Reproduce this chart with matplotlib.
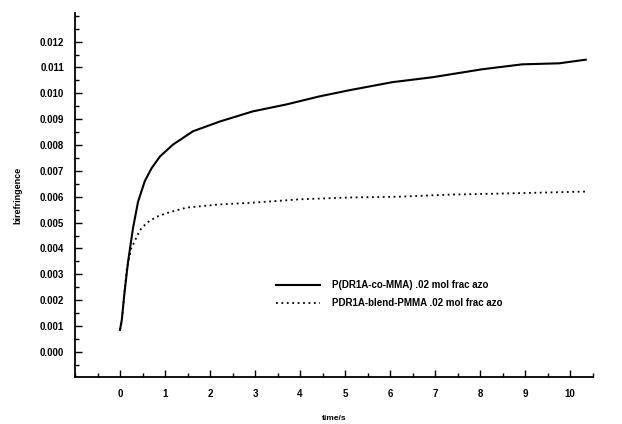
import matplotlib
matplotlib.use('Agg')
import matplotlib.pyplot as plt
from matplotlib.ticker import MultipleLocator, FixedLocator

plt.rcParams['font.family'] = ['Liberation Sans', 'DejaVu Sans']
plt.rcParams['font.weight'] = 'bold'

# P(DR1A-co-MMA) curve
t_co = [0, 0.04, 0.1, 0.18, 0.29, 0.4, 0.55, 0.7, 0.89, 1.18, 1.62, 2.22,
        2.95, 3.70, 4.43, 5.1, 6.05, 6.94, 8.05, 8.94, 9.76, 10.35]
bf_co = [0.00085, 0.00124, 0.0023, 0.0035, 0.0048, 0.0058, 0.0066, 0.0071,
         0.00756, 0.00802, 0.00853, 0.00891, 0.0093, 0.00957, 0.00988, 0.01012,
         0.01043, 0.01062, 0.01093, 0.01112, 0.01116, 0.01130]

# PDR1A-blend-PMMA curve
t_bl = [0, 0.04, 0.1, 0.15, 0.25, 0.44, 0.6, 0.82, 1.1, 1.48, 2.2, 2.95, 4.0,
        5.1, 6.2, 7.3, 8.4, 9.4, 10.35]
bf_bl = [0.00085, 0.0012, 0.0023, 0.0032, 0.0040, 0.0047, 0.0050, 0.00523,
         0.0054, 0.00558, 0.0057, 0.00577, 0.0059, 0.00597, 0.0060, 0.00608,
         0.00612, 0.00616, 0.0062]

labels = ['P(DR1A-co-MMA) .02 mol frac azo', 'PDR1A-blend-PMMA .02 mol frac azo']
yticks = [0.000, 0.001, 0.002, 0.003, 0.004, 0.005, 0.006, 0.007, 0.008,
          0.009, 0.010, 0.011, 0.012]
xticks = list(range(0, 11))

fig = plt.figure(figsize=(6.22, 4.24), dpi=100)
ax = fig.add_axes([0.1206, 0.111, 0.832, 0.858])

ax.plot(t_co, bf_co, color='black', lw=1.5, linestyle='-', label=labels[0])
ax.plot(t_bl, bf_bl, color='black', lw=1.3, linestyle=(0, (1, 2)), label=labels[1])

ax.set_xlim(-1, 10.5)
ax.set_ylim(-0.00097, 0.0131)
ax.xaxis.set_major_locator(FixedLocator(xticks))
ax.xaxis.set_minor_locator(MultipleLocator(0.5))
ax.yaxis.set_major_locator(FixedLocator(yticks))
ax.yaxis.set_minor_locator(MultipleLocator(0.0005))
ax.set_yticklabels(['%.3f' % v for v in yticks])

for s in ['top', 'right']:
    ax.spines[s].set_visible(False)
for s in ['left', 'bottom']:
    ax.spines[s].set_linewidth(1.3)

ax.tick_params(which='major', direction='in', length=5, width=1, labelsize=7, pad=8)
ax.tick_params(which='minor', direction='in', length=3, width=1)
ax.tick_params(axis='x', pad=9)

ax.set_xlabel('time/s', fontsize=6, fontweight='bold', labelpad=14)
ax.set_ylabel('birefringence', fontsize=6.5, fontweight='bold', labelpad=12)
ax.xaxis.set_label_coords(0.5, -0.105)

ax.legend(loc='upper left', bbox_to_anchor=(0.372, 0.29), frameon=False,
          fontsize=7, handlelength=4.5, handletextpad=1.2, labelspacing=0.85)

plt.savefig('out.png', dpi=100)
